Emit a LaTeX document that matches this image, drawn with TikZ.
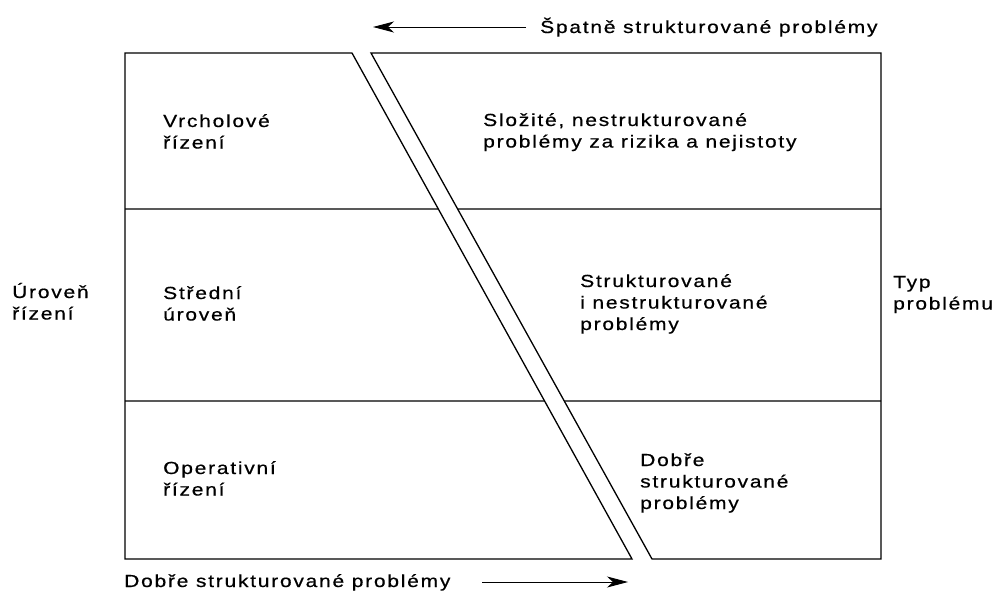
\documentclass[tikz,border=0pt]{standalone}
\usepackage{fontspec}
\setmainfont{Liberation Sans}[FakeStretch=1.2,LetterSpace=10,FakeBold=0.6]
\usetikzlibrary{arrows.meta,calc}
\begin{document}
\begin{tikzpicture}[x=1pt,y=-1pt,
  frame/.style={line width=1.3pt,black},
  lbl/.style={anchor=base west,inner sep=0pt,align=left,font=\fontsize{17.5}{21.5}\selectfont},
  arr/.style={line width=0.9pt,-{Stealth[length=21pt,width=11pt,inset=6pt]}}]
\useasboundingbox (0,0) rectangle (993,594);
% corner points
\coordinate (TL) at (125,53);
\coordinate (TR) at (881,53);
\coordinate (BL) at (125,559);
\coordinate (BR) at (881,559);
\coordinate (A1) at (352,53);
\coordinate (A2) at (632,559);
\coordinate (B1) at (371,53);
\coordinate (B2) at (652,559);
% left and right parts
\draw[frame] (A1) -- (TL) -- (BL) -- (A2) -- cycle;
\draw[frame] (B1) -- (TR) -- (BR) -- (B2) -- cycle;
% horizontal dividers, interrupted by the band
\coordinate (L1) at (125,209);
\coordinate (R1) at (881,209);
\coordinate (L2) at (125,401);
\coordinate (R2) at (881,401);
\coordinate (A1m) at ($(A1)!0.3083!(A2)$);
\coordinate (B1m) at ($(B1)!0.3083!(B2)$);
\coordinate (A2m) at ($(A1)!0.6877!(A2)$);
\coordinate (B2m) at ($(B1)!0.6877!(B2)$);
\draw[frame] (L1) -- (A1m);
\draw[frame] (B1m) -- (R1);
\draw[frame] (L2) -- (A2m);
\draw[frame] (B2m) -- (R2);
% top label and arrow
\node[lbl] (top) at (540,33) {Špatně strukturované problémy};
\coordinate (topA) at (526,27);
\coordinate (topB) at (373,27);
\draw[arr] (topA) -- (topB);
% bottom label and arrow
\node[lbl] (bot) at (124,587) {Dobře strukturované problémy};
\coordinate (botA) at (482,582);
\coordinate (botB) at (628,582);
\draw[arr] (botA) -- (botB);
% side labels (anchor = baseline of the last line)
\node[lbl] (uroven) at (12,319.5) {Úroveň\\řízení};
\node[lbl] (typ) at (893,309.5) {Typ\\problému};
% left cells
\node[lbl] (vrch) at (163,148.5) {Vrcholové\\řízení};
\node[lbl] (stred) at (163,320.5) {Střední\\úroveň};
\node[lbl] (oper) at (163,495.5) {Operativní\\řízení};
% right cells
\node[lbl] (slozite) at (483,147.5) {Složité, nestrukturované\\problémy za rizika a nejistoty};
\node[lbl] (strukt) at (580,330) {Strukturované\\i nestrukturované\\problémy};
\node[lbl] (dobre) at (640,509) {Dobře\\strukturované\\problémy};
\end{tikzpicture}
\end{document}
